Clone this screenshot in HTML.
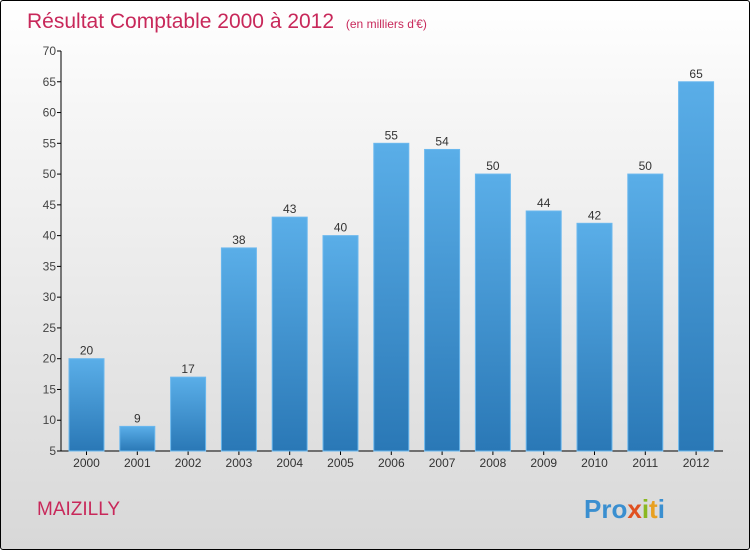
<!DOCTYPE html>
<html><head><meta charset="utf-8"><style>
body{margin:0;width:750px;height:550px;overflow:hidden;font-family:"Liberation Sans",sans-serif}
#wrap{position:absolute;left:0;top:0;width:748px;height:548px;border:1px solid #000;border-radius:3px;background:linear-gradient(#fff,#f6f6f6 20%,#d8d8d8)}
</style></head><body>
<div id="wrap">
<svg width="750" height="550">
<defs><linearGradient id="g" x1="0" y1="0" x2="0" y2="1"><stop offset="0" stop-color="#5aaee8"/><stop offset="1" stop-color="#2a78b6"/></linearGradient></defs>
<text x="26" y="27" font-size="21" fill="#c8285a">Résultat Comptable 2000 à 2012 <tspan font-size="12" dx="6">(en milliers d'€)</tspan></text>
<g id="axes"></g><g id="bars"></g>
<text x="36" y="514" font-size="19" fill="#c8285a">MAIZILLY</text>
<text x="583" y="517" font-size="26" font-weight="bold"><tspan fill="#3a8fd0">Pro</tspan><tspan fill="#e05020">x</tspan><tspan fill="#8ab820">i</tspan><tspan fill="#e8a020">t</tspan><tspan fill="#3a8fd0">i</tspan></text>
</svg></div>
<script>
const categories=["2000","2001","2002","2003","2004","2005","2006","2007","2008","2009","2010","2011","2012"];
const values=[20,9,17,38,43,40,55,54,50,44,42,50,65];
const ticks=[5,10,15,20,25,30,35,40,45,50,55,60,65,70];
const NS="http://www.w3.org/2000/svg";
const y=v=>450-(v-5)*400/65;
const x=i=>85.5+i*50.8;
function mk(t,a,p){const e=document.createElementNS(NS,t);for(const k in a)e.setAttribute(k,a[k]);p.appendChild(e);return e;}
const ax=document.getElementById('axes'),bs=document.getElementById('bars');
let l=mk('line',{x1:60,y1:50,x2:60,y2:450,stroke:'#000'},ax);


l=mk('line',{x1:60,y1:450,x2:722,y2:450,stroke:'#000'},ax);


ticks.forEach(t=>{mk('line',{x1:56,y1:y(t),x2:60,y2:y(t),stroke:'#000'},ax);
const tx=mk('text',{x:55,y:y(t)+4,'font-size':12,fill:'#444','text-anchor':'end'},ax);tx.textContent=t;

});
categories.forEach((c,i)=>{const v=values[i];
const r=mk('rect',{x:x(i)-17.5,y:y(v),width:35,height:450-y(v),fill:'url(#g)',stroke:'#6bb8ee','stroke-width':1},bs);


const vt=mk('text',{x:x(i),y:y(v)-4,'font-size':12,fill:'#333','text-anchor':'middle'},bs);vt.textContent=v;


mk('line',{x1:x(i),y1:450,x2:x(i),y2:454,stroke:'#000'},ax);
const ct=mk('text',{x:x(i),y:466,'font-size':12,fill:'#333','text-anchor':'middle'},ax);ct.textContent=c;

});
</script>
</body></html>
